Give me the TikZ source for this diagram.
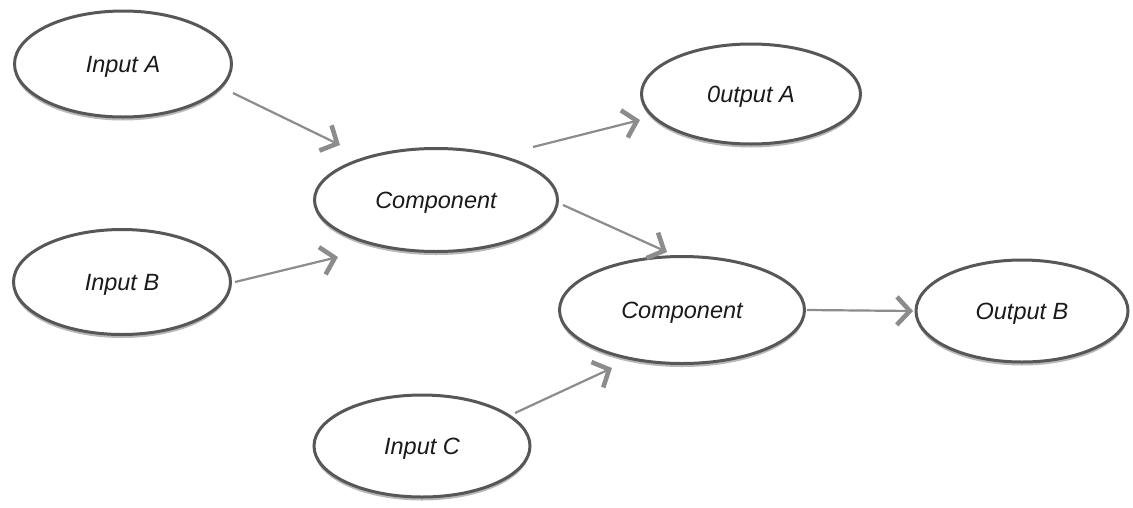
\documentclass[tikz,border=0pt]{standalone}
\usepackage{fontspec}
\setmainfont{Liberation Sans}
\usetikzlibrary{arrows.meta,shadows,shapes.geometric}
\definecolor{ellline}{HTML}{575757}
\definecolor{arrline}{HTML}{8C8C8C}
\definecolor{txt}{HTML}{1A1A1A}
\begin{document}
\begin{tikzpicture}[x=1pt,y=-1pt,
  ell/.style={ellipse, draw=ellline, line width=3pt, fill=white, inner sep=0pt,
    text=txt, font=\fontsize{23.5}{28}\selectfont\itshape,
    text height=16.8pt, text depth=0pt,
    drop shadow={shadow xshift=0pt, shadow yshift=-3.5pt, opacity=0.28, fill=black}},
  arr/.style={draw=arrline, line width=2.2pt,
    -{Straight Barb[length=13pt,width=28pt,line width=4.6pt]}}
]
\useasboundingbox (0,0) rectangle (1133,507);
\node[ell, minimum width=217pt, minimum height=106pt] (inA) at (123,64) {Input A};
\node[ell, minimum width=217pt, minimum height=105pt] (inB) at (122,282) {Input B};
\node[ell, minimum width=243pt, minimum height=103pt] (c1) at (436,200) {Component};
\node[ell, minimum width=219pt, minimum height=100pt] (outA) at (751,94) {0utput A};
\node[ell, minimum width=245pt, minimum height=107pt] (c2) at (682,310) {Component};
\node[ell, minimum width=212pt, minimum height=102pt] (outB) at (1022,311) {Output B};
\node[ell, minimum width=216pt, minimum height=102pt] (inC) at (422,446) {Input C};

\draw[arr] ([shift={(110,29)}]inA.center) -- ([shift={(-96,-55)}]c1.center);
\draw[arr] ([shift={(97,-53)}]c1.center) -- ([shift={(-111,26)}]outA.center);
\draw[arr] ([shift={(113,0)}]inB.center) -- ([shift={(-98,57)}]c1.center);
\draw[arr] ([shift={(127,5)}]c1.center) -- ([shift={(-15,-58)}]c2.center);
\draw[arr] ([shift={(125,0)}]c2.center) -- ([shift={(-109,0)}]outB.center);
\draw[arr] ([shift={(93,-33)}]inC.center) -- ([shift={(-70,58)}]c2.center);
\end{tikzpicture}
\end{document}
